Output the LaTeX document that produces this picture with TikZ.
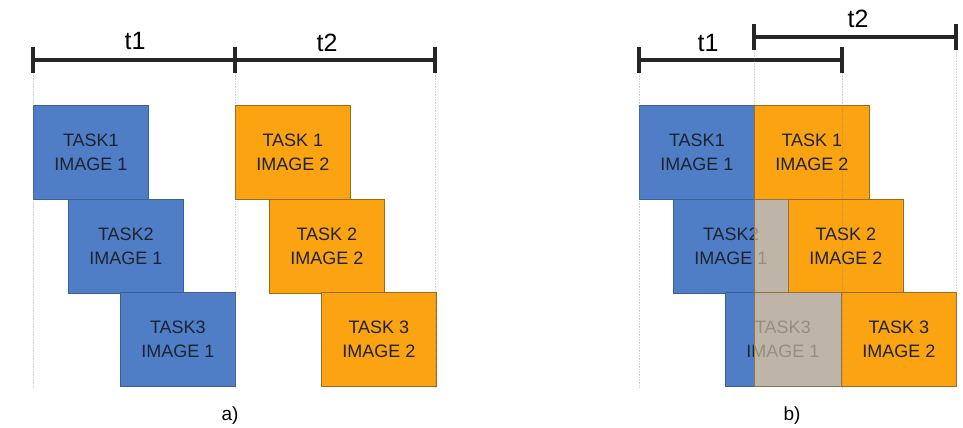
\documentclass[tikz,border=0pt]{standalone}
\usepackage{fontspec}
\setmainfont{Liberation Sans}
\definecolor{tblue}{HTML}{4F7EC6}
\definecolor{tblueb}{HTML}{3B5F98}
\definecolor{torange}{HTML}{FCA311}
\definecolor{toranb}{HTML}{9A6A20}
\definecolor{tgray}{HTML}{BEB4A8}
\definecolor{tgraytext}{HTML}{978D80}
\definecolor{ttext}{HTML}{1E2330}
\begin{document}
\begin{tikzpicture}[x=1pt,y=-1pt,
  task/.style={draw, line width=0.8pt, minimum width=115pt, minimum height=94pt,
    anchor=north west, inner sep=0pt, align=center,
    font=\fontsize{18}{24}\selectfont, text=ttext},
  bluetask/.style={task, fill=tblue, draw=tblueb},
  orangetask/.style={task, fill=torange, draw=toranb},
  ghosttext/.style={task, draw=none, fill=none, text=tgraytext},
  overlaybox/.style={fill=tgray, draw=toranb!60!gray, line width=0.8pt},
  timeline/.style={line width=3.2pt, black!85},
  guide/.style={densely dotted, gray, opacity=0.35, line width=0.6pt},
  tlabel/.style={font=\fontsize{25}{25}\selectfont, anchor=base, inner sep=0pt},
  caption/.style={font=\fontsize{19}{19}\selectfont, anchor=base, inner sep=0pt}]
\useasboundingbox[fill=white] (0,0) rectangle (963,428);

% ---------- part a ----------
\coordinate (a0) at (33,60);
\coordinate (a1) at (235,60);
\coordinate (a2) at (435,60);
\draw[timeline] (a0) -- (a2);
\foreach \c in {a0,a1,a2}{\draw[timeline] ([yshift=13pt]\c) -- ([yshift=-13pt]\c);}
\node[tlabel] (t1a) at (135,50) {t1};
\node[tlabel] (t2a) at (327,52) {t2};

\node[bluetask] (ab1) at (33,105) {TASK1\\IMAGE 1};
\node[bluetask] (ab2) at (68,199) {TASK2\\IMAGE 1};
\node[bluetask] (ab3) at (120,292) {TASK3\\IMAGE 1};
\node[orangetask] (ao1) at (235,105) {TASK 1\\IMAGE 2};
\node[orangetask] (ao2) at (269,199) {TASK 2\\IMAGE 2};
\node[orangetask] (ao3) at (321,292) {TASK 3\\IMAGE 2};

\foreach \c in {a0,a1,a2}{\draw[guide] ([yshift=-13pt]\c) -- (\c |- ab3.south);}
\node[caption] (capa) at (230,420) {a)};

% ---------- part b ----------
\coordinate (b0) at (639,60);
\coordinate (b1) at (842,60);
\coordinate (c0) at (754,37);
\coordinate (c1) at (956,37);
\draw[timeline] (b0) -- (b1);
\draw[timeline] (c0) -- (c1);
\foreach \c in {b0,b1,c0,c1}{\draw[timeline] ([yshift=13pt]\c) -- ([yshift=-13pt]\c);}
\node[tlabel] (t1b) at (708,52) {t1};
\node[tlabel] (t2b) at (858,28) {t2};

\node[bluetask] (bb1) at (639,105) {TASK1\\IMAGE 1};
\node[orangetask] (bo1) at (754,105) {TASK 1\\IMAGE 2};
\node[bluetask] (bb2) at (673,199) {TASK2\\IMAGE 1};
\node[orangetask] (bo2) at (788,199) {TASK 2\\IMAGE 2};
\node[bluetask] (bb3) at (725,292) {TASK3\\IMAGE 1};
\node[orangetask] (bo3) at (841,292) {TASK 3\\IMAGE 2};

\draw[overlaybox] (bo1.south west) rectangle (bo2.south west);
\begin{scope}
  \clip (bo1.south west) rectangle (bo2.south west);
  \node[ghosttext] (gb2) at (bb2.north west) {TASK2\\IMAGE 1};
\end{scope}
\draw[overlaybox] (bo1.south west |- bb3.north) rectangle (bo3.south west);
\begin{scope}
  \clip (bo1.south west |- bb3.north) rectangle (bo3.south west);
  \node[ghosttext] (gb3) at (bb3.north west) {TASK3\\IMAGE 1};
\end{scope}

\foreach \c in {b0,b1,c0,c1}{\draw[guide] ([yshift=-13pt]\c) -- (\c |- bo3.south);}
\node[caption] (capb) at (792,420) {b)};
\end{tikzpicture}
\end{document}
